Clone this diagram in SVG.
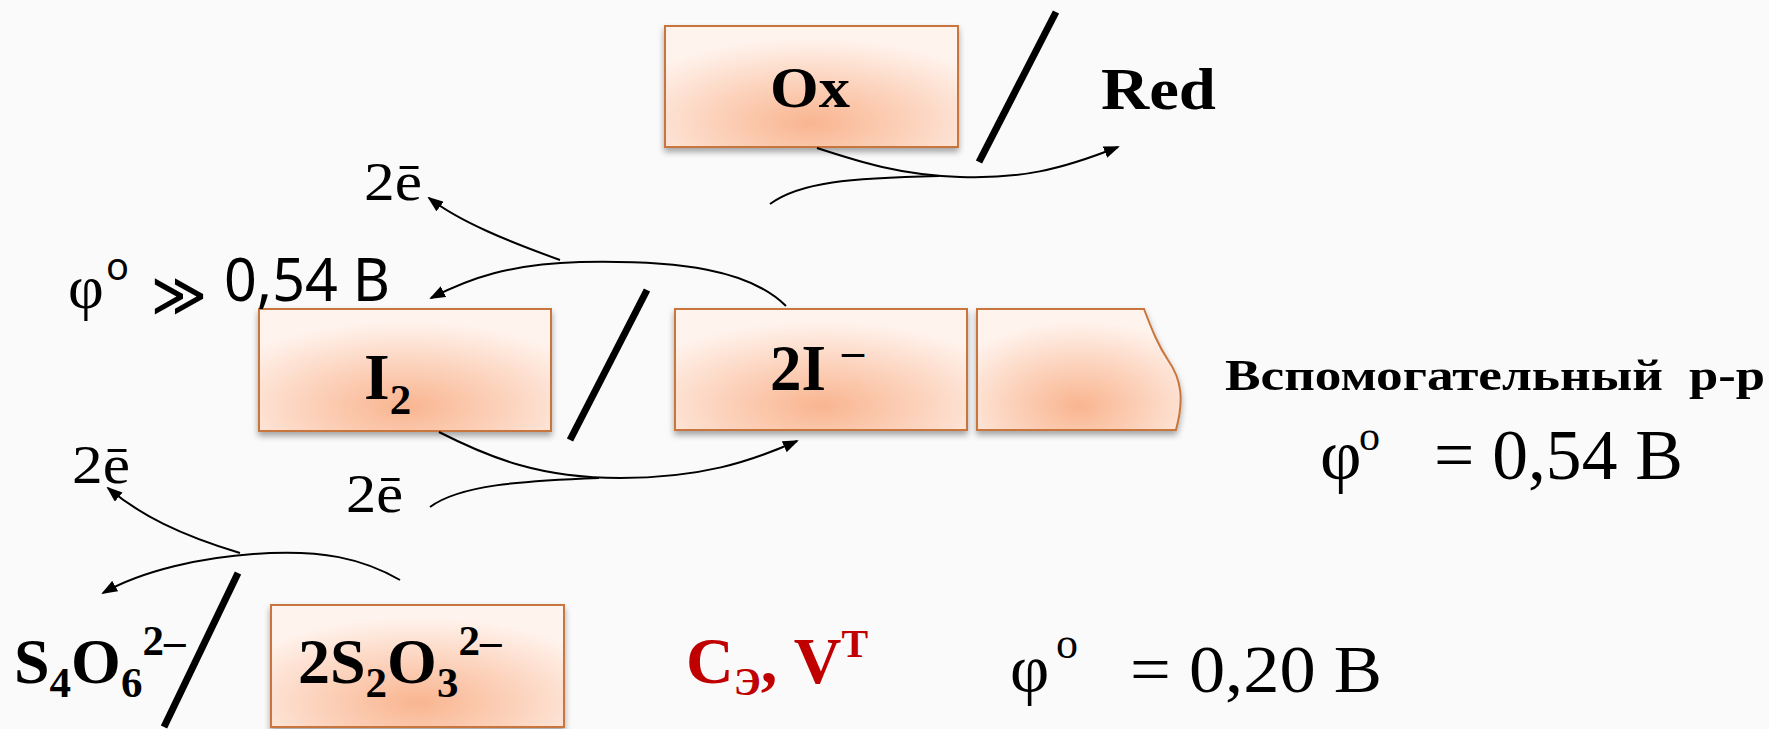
<svg xmlns="http://www.w3.org/2000/svg" width="1769" height="729" viewBox="0 0 1769 729">
<style>
.serif{font-family:"Liberation Serif","Times New Roman",serif;fill:#000}
.b{font-weight:bold}
.sans{font-family:"Noto Sans","Open Sans","DejaVu Sans",sans-serif;fill:#000}
.box{fill:url(#peach);stroke:#c8763c;stroke-width:2;filter:url(#sh)}
.con{fill:none;stroke:#000;stroke-width:2}
.slash{stroke:#000;stroke-width:7;stroke-linecap:butt}
.red{fill:#c00000}
</style>
<defs>
<radialGradient id="peach" cx="0.5" cy="0.8" r="0.7">
<stop offset="0" stop-color="#f9b590"/>
<stop offset="0.5" stop-color="#fcd3bd"/>
<stop offset="1" stop-color="#fff3ed"/>
</radialGradient>
<filter id="sh" x="-10%" y="-10%" width="120%" height="130%">
<feDropShadow dx="0" dy="4" stdDeviation="3" flood-color="#000" flood-opacity="0.35"/>
</filter>
<marker id="ah" markerWidth="16" markerHeight="12" refX="14" refY="6" orient="auto" markerUnits="userSpaceOnUse">
<path d="M0,0 L16,6 L0,12 Z" fill="#000"/>
</marker>
</defs>
<rect width="1769" height="729" fill="#fafafa"/>

<g id="node-ox">
<rect class="box" x="665" y="26" width="293" height="121"/>
<text class="serif b" x="770" y="107" font-size="58" textLength="80" lengthAdjust="spacingAndGlyphs">Ox</text>
</g>
<g id="node-red">
<text class="serif b" x="1101" y="109" font-size="60" textLength="115" lengthAdjust="spacingAndGlyphs">Red</text>
</g>
<g id="node-i2">
<rect class="box" x="259" y="309" width="292" height="122"/>
<text class="serif b" x="364" y="399" font-size="66">I<tspan font-size="43" dy="15">2</tspan></text>
</g>
<g id="node-2i">
<rect class="box" x="675" y="309" width="292" height="121"/>
<text class="serif b" x="770" y="390" font-size="65" textLength="56" lengthAdjust="spacingAndGlyphs">2I</text>
<text class="serif b" x="842" y="366" font-size="44">–</text>
</g>
<g id="node-aux">
<path class="box" d="M977,309 H1144 C1152,330 1158,345 1168,360 C1182,380 1184,400 1176,430 H977 Z"/>
</g>
<g id="node-aux-label">
<text class="serif b" y="390" font-size="44"><tspan x="1225" textLength="438" lengthAdjust="spacingAndGlyphs">Вспомогательный</tspan><tspan x="1689" textLength="76" lengthAdjust="spacingAndGlyphs">р-р</tspan></text>
</g>
<g id="node-phi054">
<text class="serif" x="1320" y="479" font-size="72">φ</text>
<text class="serif" x="1359" y="450" font-size="42">o</text>
<text class="serif" x="1434" y="479" font-size="72" textLength="249" lengthAdjust="spacingAndGlyphs">= 0,54 B</text>
</g>
<g id="node-phi-left">
<text class="serif" x="68" y="308" font-size="62">φ</text>
<text class="sans" x="106" y="280" font-size="38">o</text>
<text class="sans" x="151" y="316" font-size="62" textLength="56" lengthAdjust="spacingAndGlyphs">≫</text>
<text class="sans" x="224" y="301" font-size="60" textLength="166" lengthAdjust="spacingAndGlyphs">0,54 B</text>
</g>
<g id="node-e1"><text class="serif" x="364" y="200" font-size="54" textLength="58" lengthAdjust="spacingAndGlyphs">2ē</text></g>
<g id="node-e2"><text class="serif" x="346" y="512" font-size="54" textLength="57" lengthAdjust="spacingAndGlyphs">2ē</text></g>
<g id="node-e3"><text class="serif" x="72" y="483" font-size="54" textLength="58" lengthAdjust="spacingAndGlyphs">2ē</text></g>
<g id="node-s4o6">
<text class="serif b" x="14" y="683" font-size="64">S<tspan font-size="43" dy="14">4</tspan><tspan font-size="64" dy="-14">O</tspan><tspan font-size="43" dy="14">6</tspan><tspan font-size="43" dy="-42">2–</tspan></text>
</g>
<g id="node-s2o3">
<rect class="box" x="271" y="605" width="293" height="122"/>
<text class="serif b" x="298" y="683" font-size="64">2S<tspan font-size="43" dy="14">2</tspan><tspan font-size="64" dy="-14">O</tspan><tspan font-size="43" dy="14">3</tspan><tspan font-size="43" dy="-42">2–</tspan></text>
</g>
<g id="node-cv">
<text class="serif b red" x="686" y="683" font-size="66">C<tspan font-size="40" dy="12">Э</tspan><tspan font-size="66" dy="-12">, V</tspan><tspan font-size="40" dy="-26">T</tspan></text>
</g>
<g id="node-phi020">
<text class="serif" x="1010" y="692" font-size="68">φ</text>
<text class="serif" x="1056" y="658" font-size="44">o</text>
<text class="serif" x="1130" y="692" font-size="68" textLength="252" lengthAdjust="spacingAndGlyphs">= 0,20 B</text>
</g>

<g id="connectors">
<line class="slash" x1="1056" y1="12" x2="979" y2="162"/>
<line class="slash" x1="647" y1="290" x2="570" y2="440"/>
<line class="slash" x1="238" y1="573" x2="164" y2="727"/>
<path class="con" d="M817,148 C860,162 900,175 960,177 C1020,179 1060,170 1118,147" marker-end="url(#ah)"/>
<path class="con" d="M770,204 C800,182 850,178 939,176"/>
<path class="con" d="M786,306 C750,270 680,260 580,262 C510,264 470,278 431,298" marker-end="url(#ah)"/>
<path class="con" d="M560,260 C510,242 460,222 429,198" marker-end="url(#ah)"/>
<path class="con" d="M439,432 C490,458 540,478 620,478 C700,478 750,462 797,441" marker-end="url(#ah)"/>
<path class="con" d="M430,507 C460,485 520,481 599,478"/>
<path class="con" d="M400,580 C360,557 320,551 270,553 C200,556 140,572 103,593" marker-end="url(#ah)"/>
<path class="con" d="M240,553 C180,535 140,515 108,488" marker-end="url(#ah)"/>
</g>
</svg>
